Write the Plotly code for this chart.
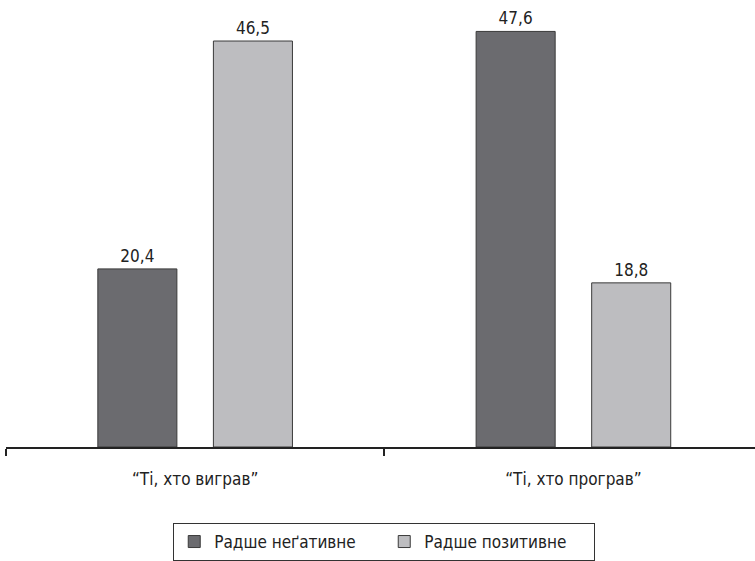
import plotly.graph_objects as go

categories = ["“Ті, хто виграв”", "“Ті, хто програв”"]
series_names = ["Радше неґативне", "Радше позитивне"]
negative = [20.4, 47.6]
positive = [46.5, 18.8]
colors = ["#6b6b6f", "#bdbdc0"]

FONT = "Liberation Sans Narrow, DejaVu Sans Condensed, Roboto Condensed, sans-serif"

fig = go.Figure()
for name, vals, col in zip(series_names, [negative, positive], colors):
    fig.add_trace(go.Bar(
        x=categories, y=vals, name=name,
        marker=dict(color=col, line=dict(color="#3a3a3a", width=1)),
        texttemplate="%{y:.1f}", textposition="outside",
        textfont=dict(size=17, color="#222222", family=FONT),
        cliponaxis=False,
    ))

fig.update_layout(
    width=755, height=561,
    margin=dict(l=6, r=0, t=0, b=114),
    paper_bgcolor="white", plot_bgcolor="white",
    barmode="group", bargap=0.389, bargroupgap=0.316,
    separators=", ",
    font=dict(family=FONT, size=17, color="#222222"),
    showlegend=True,
    legend=dict(
        orientation="h", x=0.505, xanchor="center", y=-0.17, yanchor="top",
        bordercolor="#333333", borderwidth=1,
        font=dict(size=17, family=FONT, color="#222222"),
        entrywidth=165, itemwidth=30,
    ),
)
fig.update_xaxes(
    range=[-0.5, 1.48], showline=True, linecolor="#222222", linewidth=1.5,
    ticks="outside", tickson="boundaries", ticklen=7, tickcolor="#222222", tickwidth=1.5,
    ticklabelstandoff=16, tickfont=dict(size=17, family=FONT, color="#222222"),
    showgrid=False, zeroline=False, fixedrange=True,
)
fig.update_yaxes(
    range=[0, 51.2], visible=False, showgrid=False, zeroline=False, fixedrange=True,
)

fig.write_html(
    "out.html",
    config={"displayModeBar": False},
    post_script="document.body.style.margin='0';document.body.style.overflow='hidden';",
)
